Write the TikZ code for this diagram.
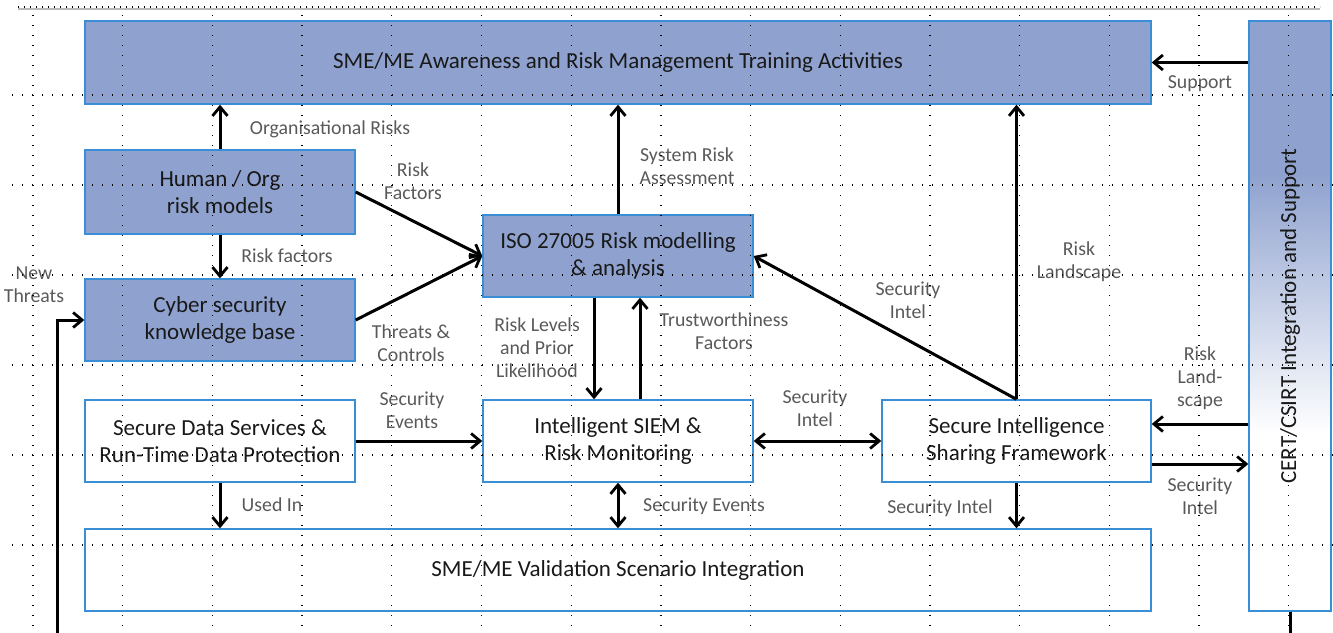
\documentclass[tikz,border=0pt]{standalone}
\usepackage{fontspec}
\setmainfont{Carlito}
\usetikzlibrary{arrows.meta}
\definecolor{boxblue}{RGB}{143,162,207}
\definecolor{edgeblue}{RGB}{58,142,214}
\definecolor{labelgrey}{RGB}{89,89,89}
\definecolor{textdark}{RGB}{25,25,25}
% fades from the blue of the other boxes at the top to white lower down
\pgfdeclareverticalshading{certfade}{100bp}{color(0bp)=(white); color(40bp)=(white); color(62bp)=(boxblue); color(100bp)=(boxblue)}
\begin{document}
\begin{tikzpicture}[x=1pt,y=-1pt,
  bluebox/.style={draw=edgeblue, line width=1.4pt, fill=boxblue, align=center,
    text=textdark, font=\fontsize{23}{27.5}\selectfont, inner sep=0pt},
  whitebox/.style={bluebox, fill=none},
  lbl/.style={text=labelgrey, font=\fontsize{19.8}{23}\selectfont, align=center, inner sep=0pt},
  flow/.style={line width=3pt, -{Straight Barb[length=9pt,width=15pt,line width=2.8pt]}},
  twoway/.style={line width=3pt, {Straight Barb[length=9pt,width=15pt,line width=2.8pt]}-{Straight Barb[length=9pt,width=15pt,line width=2.8pt]}},
  gridline/.style={line width=1.3pt, dash pattern=on 1.3pt off 8.7pt}
]
\useasboundingbox (0,0) rectangle (1333,632);

% boxes
\node[bluebox, minimum width=1066, minimum height=83] (top) at (618,62.5)
  {SME/ME Awareness and Risk Management Training Activities};
\node[bluebox, minimum width=270, minimum height=84] (human) at (220,192)
  {Human / Org\\risk models};
\node[bluebox, minimum width=270, minimum height=82] (cyber) at (220,320)
  {Cyber security\\knowledge base};
\node[bluebox, minimum width=270, minimum height=82] (iso) at (618,256)
  {ISO 27005 Risk modelling\\\& analysis};
\node[whitebox, minimum width=270, minimum height=82] (data) at (220,441)
  {Secure Data Services \&\\Run-Time Data Protection};
\node[whitebox, minimum width=270, minimum height=82] (siem) at (618,441)
  {Intelligent SIEM \&\\Risk Monitoring};
\node[whitebox, minimum width=269, minimum height=82] (sis) at (1016.5,441)
  {Secure Intelligence\\Sharing Framework};
\node[whitebox, minimum width=1066, minimum height=82] (valid) at (618,570)
  {SME/ME Validation Scenario Integration};
\node[whitebox, shade, shading=certfade, minimum width=82, minimum height=590] (cert) at (1290,316) {};
\node[rotate=90, text=textdark, font=\fontsize{23}{27.5}\selectfont, inner sep=0pt] (certtext) at (cert.center)
  {CERT/CSIRT Integration and Support};

% connectors
\draw[flow] (human.north) -- (human.north |- top.south);
\draw[flow] (human.south) -- (cyber.north);
\draw[flow] (human.east) -- (iso.west);
\draw[flow] (cyber.east) -- (iso.west);
\draw[flow] (iso.north) -- (iso.north |- top.south);
\draw[flow] (iso.south -| 594,0) -- (siem.north -| 594,0);
\draw[flow] (siem.north -| 640,0) -- (iso.south -| 640,0);
\draw[flow] (sis.north) -- (iso.east);
\draw[flow] (sis.north) -- (sis.north |- top.south);
\draw[flow] (data.east) -- (siem.west);
\draw[twoway] (siem.east) -- (sis.west);
\draw[flow] (data.south) -- (data.south |- valid.north);
\draw[twoway] (siem.south) -- (siem.south |- valid.north);
\draw[flow] (sis.south) -- (sis.south |- valid.north);
\draw[flow] (cert.west |- top.east) -- (top.east);
\draw[flow] (cert.west |- 0,424) -- (sis.east |- 0,424);
\draw[flow] (sis.east |- 0,464) -- (cert.west |- 0,464);
\coordinate (threatsin) at (57,640);
\draw[flow] (threatsin) |- (cyber.west);
\coordinate (certout) at (1290,640);
\draw[line width=3pt] (cert.south) -- (certout);

% connector labels
\node[lbl] (l1) at (330,129) {Organisational Risks};
\node[lbl] (l2) at (287,256) {Risk factors};
\node[lbl] (l3) at (413,181) {Risk\\Factors};
\node[lbl] (l4) at (411,343) {Threats \&\\Controls};
\node[lbl] (l5) at (34,285) {New\\Threats};
\node[lbl] (l6) at (687,166) {System Risk\\Assessment};
\node[lbl] (l7) at (537,348) {Risk Levels\\and Prior\\Likelihood};
\node[lbl] (l8) at (724,331) {Trustworthiness\\Factors};
\node[lbl] (l9) at (908,300) {Security\\Intel};
\node[lbl] (l10) at (1079,262) {Risk\\Landscape};
\node[lbl] (l11) at (1200,84) {Support};
\node[lbl] (l12) at (1200,378) {Risk\\Land-\\scape};
\node[lbl] (l13) at (1200,496) {Security\\Intel};
\node[lbl] (l14) at (412,410) {Security\\Events};
\node[lbl] (l15) at (815,408) {Security\\Intel};
\node[lbl] (l16) at (272,505) {Used In};
\node[lbl] (l17) at (704,506) {Security Events};
\node[lbl] (l18) at (940,508) {Security Intel};

% dotted layout grid on top of everything
\draw[gray!55, line width=1.5pt] (18,9) -- (1320,9);
\draw[line width=1.3pt, dash pattern=on 1.3pt off 4.7pt] (18,7) -- (1320,7);
\foreach \i in {0,...,14}
  \draw[gridline] ({33+89.7*\i},15) -- ({33+89.7*\i},632);
\foreach \j in {0,...,5}
  \draw[gridline] (12,{95+90*\j}) -- (1333,{95+90*\j});
\end{tikzpicture}
\end{document}
